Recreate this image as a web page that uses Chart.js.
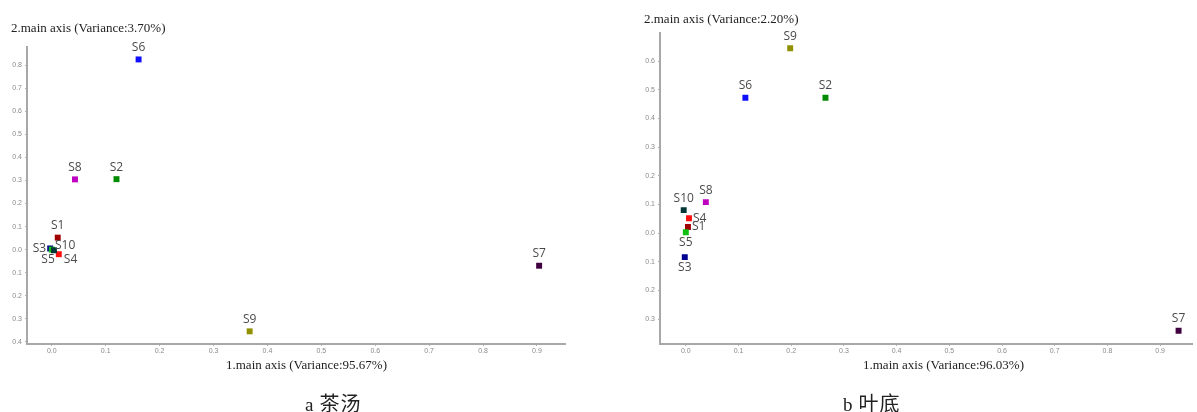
<!DOCTYPE html>
<html lang="zh">
<head>
    <meta charset="UTF-8" />
    <title>PCA 茶汤 / 叶底</title>
    <script src="https://cdn.jsdelivr.net/npm/chart.js"></script>
    <style>
        body {
            margin: 0;
            width: 1197px;
            height: 412px;
            background: #fff;
            position: relative;
            overflow: hidden;
            font-family: 'Liberation Serif', serif;
            color: #222;
        }
        .box { position: absolute; }
        .txt { position: absolute; font-size: 13px; white-space: nowrap; }
        .cap { position: absolute; font-size: 19px; white-space: nowrap; }
        .cap span { font-family: 'Noto Sans CJK SC', sans-serif; font-size: 20px; margin-left: 6px; letter-spacing: 1px; }
    </style>
</head>
<body>
    <div class="box" style="left:0;top:0;width:580px;height:360px;"><canvas id="chartA"></canvas></div>
    <div class="box" style="left:630px;top:0;width:567px;height:360px;"><canvas id="chartB"></canvas></div>

    <div class="txt" style="left:11px;top:20px;">2.main axis (Variance:3.70%)</div>
    <div class="txt" style="left:226px;top:357px;">1.main axis (Variance:95.67%)</div>
    <div class="cap" style="left:305px;top:388px;">a<span>茶汤</span></div>

    <div class="txt" style="left:644px;top:11px;">2.main axis (Variance:2.20%)</div>
    <div class="txt" style="left:863px;top:357px;">1.main axis (Variance:96.03%)</div>
    <div class="cap" style="left:843px;top:388px;">b<span>叶底</span></div>

    <script>
        // samples
        const samplesA = ['S1', 'S2', 'S3', 'S4', 'S5', 'S6', 'S7', 'S8', 'S9', 'S10'];
        const pc1A = [0.011, 0.120, -0.003, 0.013, 0.000, 0.161, 0.904, 0.043, 0.367, 0.004];
        const pc2A = [0.052, 0.306, 0.005, -0.020, 0.000, 0.826, -0.070, 0.305, -0.355, -0.003];

        const samplesB = ['S1', 'S2', 'S3', 'S4', 'S5', 'S6', 'S7', 'S8', 'S9', 'S10'];
        const pc1B = [0.004, 0.265, -0.002, 0.006, 0.000, 0.113, 0.935, 0.038, 0.198, -0.004];
        const pc2B = [0.021, 0.472, -0.084, 0.052, 0.003, 0.472, -0.341, 0.108, 0.645, 0.080];

        // tick labels
        const xTicks = [0.0, 0.1, 0.2, 0.3, 0.4, 0.5, 0.6, 0.7, 0.8, 0.9];
        const yTicksA = [-0.4, -0.3, -0.2, -0.1, 0.0, 0.1, 0.2, 0.3, 0.4, 0.5, 0.6, 0.7, 0.8];
        const yTicksB = [-0.3, -0.2, -0.1, 0.0, 0.1, 0.2, 0.3, 0.4, 0.5, 0.6];

        const sampleColors = ['#a00000', '#008a00', '#000090', '#ff1010', '#10c010',
                              '#1010ff', '#400040', '#c000c0', '#909000', '#003838'];

        const labelPosA = ['top', 'top', 'left', 'bottomright', 'bottomleft', 'top', 'top', 'top', 'top', 'topright'];
        const labelPosB = ['right', 'top', 'bottom', 'right', 'bottom', 'top', 'top', 'top', 'top', 'top'];

        const pointLabels = {
            id: 'pointLabels',
            afterDatasetsDraw(chart, args, opts) {
                const ctx = chart.ctx;
                const meta = chart.getDatasetMeta(0);
                ctx.save();
                ctx.font = '12px "Open Sans", sans-serif';
                ctx.fillStyle = '#4a4a4a';
                ctx.textBaseline = 'middle';
                meta.data.forEach((pt, i) => {
                    let x = pt.x, y = pt.y;
                    const pos = opts.pos[i];
                    ctx.textAlign = 'center';
                    if (pos === 'top') y -= 12;
                    else if (pos === 'bottom') y += 10;
                    else if (pos === 'left') { ctx.textAlign = 'right'; x -= 4; }
                    else if (pos === 'right') { ctx.textAlign = 'left'; x += 4; }
                    else if (pos === 'topright') { ctx.textAlign = 'left'; x += 1; y -= 5; }
                    else if (pos === 'bottomleft') { ctx.textAlign = 'right'; x += 3; y += 10; }
                    else if (pos === 'bottomright') { ctx.textAlign = 'left'; x += 5; y += 5; }
                    ctx.fillText(opts.names[i], x, y);
                });
                ctx.restore();
            }
        };

        function makeChart(id, names, xs, ys, yTicks, pos, box) {
            const pts = xs.map((v, i) => ({ x: v, y: ys[i] }));
            const tickFont = { family: 'Liberation Sans', size: 7 };
            return new Chart(document.getElementById(id), {
                type: 'scatter',
                data: {
                    datasets: [{
                        data: pts,
                        pointStyle: 'rect',
                        pointRadius: 4.2,
                        pointHoverRadius: 4.2,
                        backgroundColor: sampleColors,
                        borderWidth: 0
                    }]
                },
                options: {
                    responsive: true,
                    maintainAspectRatio: false,
                    animation: false,
                    layout: { padding: { top: box.top, right: box.right, left: 0, bottom: 0 } },
                    plugins: {
                        legend: { display: false },
                        tooltip: { enabled: false },
                        pointLabels: { names: names, pos: pos }
                    },
                    scales: {
                        x: {
                            type: 'linear',
                            min: box.xmin, max: box.xmax,
                            afterBuildTicks: s => { s.ticks = xTicks.map(v => ({ value: v })); },
                            afterFit: s => { s.height = 16; },
                            ticks: {
                                font: tickFont, color: '#8a8a8a', padding: 1,
                                maxRotation: 0, autoSkip: false,
                                callback: v => Math.abs(v).toFixed(1)
                            },
                            grid: { drawOnChartArea: false, drawTicks: true, tickLength: 2, color: '#b0b0b0' },
                            border: { color: '#a8a8a8', width: 2 }
                        },
                        y: {
                            type: 'linear',
                            min: box.ymin, max: box.ymax,
                            afterBuildTicks: s => { s.ticks = yTicks.map(v => ({ value: v })); },
                            afterFit: s => { s.width = box.yw; },
                            ticks: {
                                font: tickFont, color: '#8a8a8a', padding: 3,
                                autoSkip: false,
                                callback: v => Math.abs(v).toFixed(1)
                            },
                            grid: { drawOnChartArea: false, drawTicks: true, tickLength: 2, color: '#b0b0b0' },
                            border: { color: '#a8a8a8', width: 2 }
                        }
                    }
                },
                plugins: [pointLabels]
            });
        }

        makeChart('chartA', samplesA, pc1A, pc2A, yTicksA, labelPosA,
            { top: 47, right: 15, yw: 27, xmin: -0.046, xmax: 0.952, ymin: -0.41, ymax: 0.88 });
        makeChart('chartB', samplesB, pc1B, pc2B, yTicksB, labelPosB,
            { top: 33, right: 0, yw: 30, xmin: -0.049, xmax: 0.962, ymin: -0.387, ymax: 0.698 });
    </script>
</body>
</html>
